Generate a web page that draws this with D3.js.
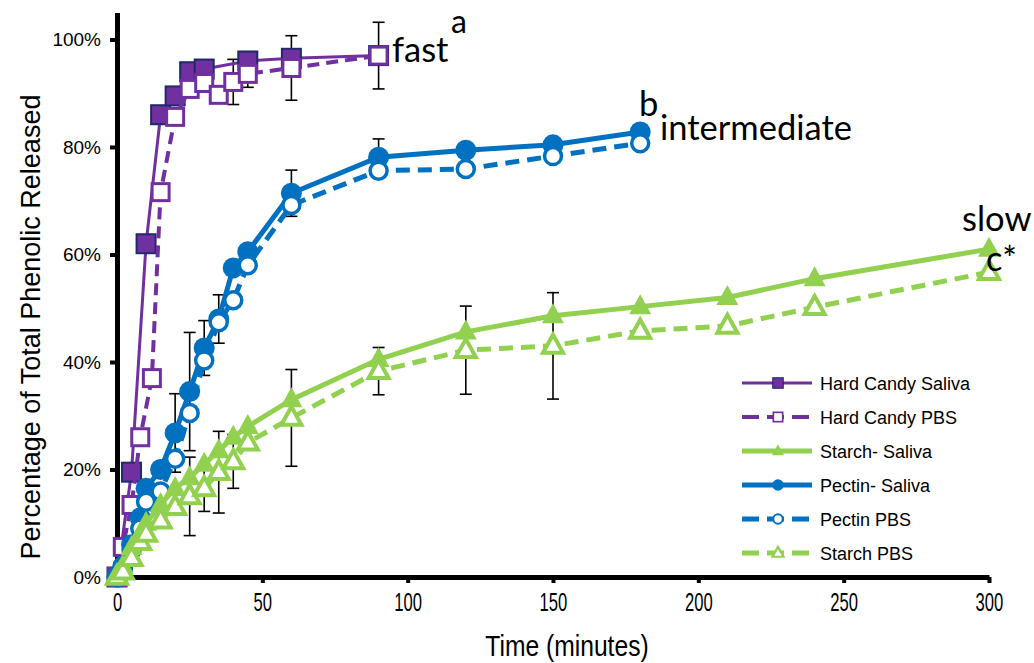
<!DOCTYPE html>
<meta charset="utf-8">
<style>
body { margin: 0; background: #fff; }
svg { display: block; }
.tick text { fill: #000; }
</style>
<body>
<svg width="1034" height="663"></svg>
<script src="https://cdn.jsdelivr.net/npm/d3@7"></script>
<script>
// time points (minutes)
var tHCSaliva = [0, 5, 10, 15, 20, 25, 30, 45, 60, 90];
var tHCPBS    = [0, 2, 5, 8, 12, 15, 20, 25, 30, 35, 40, 45, 60, 90];
var tPectin   = [0, 2, 5, 8, 10, 15, 20, 25, 30, 35, 40, 45, 60, 90, 120, 150, 180];
var tStarch   = [0, 2, 5, 8, 10, 15, 20, 25, 30, 35, 40, 45, 60, 90, 120, 150, 180, 210, 240, 300];

// % of total phenolic released
var hcSaliva     = [0, 19.5, 62, 86, 89.5, 94, 94.5, 96, 96.5, 97];
var hcPBS        = [0, 5.6, 13.4, 26, 37, 71.6, 85.6, 90.8, 91.9, 89.7, 92.1, 93.6, 94.7, 97];
var pectinSaliva = [0, 2, 6, 11, 16.5, 20, 26.8, 34.5, 42.6, 48, 57.5, 60.5, 71.4, 78.1, 79.4, 80.4, 82.8];
var pectinPBS    = [0, 1.5, 5, 9, 14, 15.9, 22, 30.5, 40.3, 47.4, 51.5, 58, 69.2, 75.6, 75.9, 78.3, 80.7];
var starchSaliva = [0, 2, 5.5, 8, 10, 13.5, 16.5, 18.5, 21, 23.5, 26, 28, 33, 40.5, 45.6, 48.6, 50.3, 52, 55.5, 61];
var starchPBS    = [0, 1, 3.5, 6.5, 8, 10.5, 13, 15, 16.5, 19.5, 21.5, 25, 29.6, 38.3, 42.2, 43, 45.8, 46.7, 50.2, 56.7];

// error bar half-widths (0 = none shown)
var errHCPBS        = [0, 0, 0, 0, 0, 0, 0, 0, 0, 0, 4.2, 2.5, 6, 6.2];
var errPectinSaliva = [0, 0, 0, 0, 0, 0, 7.3, 11, 5.1, 4.5, 0, 0, 4.3, 3.4, 0, 0, 0];
var errStarchPBS    = [0, 0, 0, 0, 0, 0, 0, 7.3, 4.3, 7.6, 5, 0, 9, 4.4, 8.2, 9.9, 0, 0, 0, 0];

var yTicks = [0, 20, 40, 60, 80, 100];
var xTicks = [0, 50, 100, 150, 200, 250, 300];

var purple = "#7030a0", navy = "#1f2a6b", blue = "#0070c0", green = "#92d050";

var series = [
  {name: "Hard Candy Saliva", t: tHCSaliva, v: hcSaliva, color: purple, dash: null, lw: 3, shape: "square", filled: true},
  {name: "Hard Candy PBS", t: tHCPBS, v: hcPBS, err: errHCPBS, color: purple, dash: "12,7", lw: 4, shape: "square", filled: false},
  {name: "Pectin- Saliva", t: tPectin, v: pectinSaliva, err: errPectinSaliva, color: blue, dash: null, lw: 5, shape: "circle", filled: true},
  {name: "Pectin PBS", t: tPectin, v: pectinPBS, color: blue, dash: "14,8", lw: 5, shape: "circle", filled: false},
  {name: "Starch- Saliva", t: tStarch, v: starchSaliva, color: green, dash: null, lw: 5, shape: "triangle", filled: true},
  {name: "Starch PBS", t: tStarch, v: starchPBS, err: errStarchPBS, color: green, dash: "14,8", lw: 5, shape: "triangle", filled: false}
];
var legendOrder = ["Hard Candy Saliva", "Hard Candy PBS", "Starch- Saliva", "Pectin- Saliva", "Pectin PBS", "Starch PBS"];

var svg = d3.select("svg");
var x = d3.scaleLinear().domain([0, 300]).range([117, 989]);
var y = d3.scaleLinear().domain([0, 105]).range([577, 12.6]);

var arial = "'Liberation Sans', Arial, sans-serif";

// axes
var yAxis = svg.append("g")
    .attr("transform", "translate(" + x(0) + ",0)")
    .call(d3.axisLeft(y).tickValues(yTicks).tickSize(7).tickSizeOuter(0).tickPadding(9)
      .tickFormat(function(d) { return d + "%"; }));
yAxis.select(".domain").attr("stroke-width", 5);
yAxis.selectAll(".tick line").attr("stroke-width", 4);
yAxis.selectAll(".tick text").style("font", "19px " + arial);

var xAxis = svg.append("g")
    .attr("transform", "translate(0," + y(0) + ")")
    .call(d3.axisBottom(x).tickValues(xTicks).tickSize(6).tickSizeOuter(0).tickPadding(10));
xAxis.select(".domain").attr("stroke-width", 5);
xAxis.selectAll(".tick line").attr("stroke-width", 4);
xAxis.selectAll(".tick text")
    .style("font", "26px " + arial)
    .attr("transform", "scale(0.64,1)");

svg.append("text")
    .attr("transform", "translate(40,327) rotate(-90)")
    .attr("text-anchor", "middle")
    .style("font", "27px " + arial)
    .text("Percentage of Total Phenolic Released");

svg.append("text")
    .attr("transform", "translate(567,656) scale(0.85,1)")
    .attr("text-anchor", "middle")
    .style("font", "29px " + arial)
    .text("Time (minutes)");

// error bars
var eb = svg.append("g").attr("stroke", "#000").attr("stroke-width", 1.6);
series.forEach(function(s) {
  if (!s.err) return;
  s.t.forEach(function(t, i) {
    var e = s.err[i];
    if (!e) return;
    var cx = x(t), y1 = y(s.v[i] + e), y2 = y(s.v[i] - e);
    eb.append("line").attr("x1", cx).attr("x2", cx).attr("y1", y1).attr("y2", y2);
    eb.append("line").attr("x1", cx - 6).attr("x2", cx + 6).attr("y1", y1).attr("y2", y1);
    eb.append("line").attr("x1", cx - 6).attr("x2", cx + 6).attr("y1", y2).attr("y2", y2);
  });
});

function marker(g, shape, filled, color, scale) {
  scale = scale || 1;
  var m;
  if (shape === "square") {
    var a = (filled ? 19 : 17) * scale;
    m = g.append("rect").attr("x", -a / 2).attr("y", -a / 2).attr("width", a).attr("height", a);
    if (filled) m.attr("fill", color).attr("stroke", navy).attr("stroke-width", 2 * scale);
    else m.attr("fill", "#fff").attr("stroke", color).attr("stroke-width", 3 * scale);
  } else if (shape === "circle") {
    m = g.append("circle").attr("r", (filled ? 10.5 : 8.5) * scale);
    if (filled) m.attr("fill", color);
    else m.attr("fill", "#fff").attr("stroke", color).attr("stroke-width", 3.5 * scale);
  } else {
    var h = (filled ? 20 : 18) * scale, w = (filled ? 22 : 20) * scale;
    m = g.append("path").attr("d", "M0," + (-h * 0.62) + "L" + (w / 2) + "," + (h * 0.38) + "L" + (-w / 2) + "," + (h * 0.38) + "Z");
    if (filled) m.attr("fill", color);
    else m.attr("fill", "#fff").attr("stroke", color).attr("stroke-width", 4 * scale).attr("stroke-linejoin", "miter");
  }
}

var line = d3.line().x(function(d) { return x(d[0]); }).y(function(d) { return y(d[1]); });

series.forEach(function(s) {
  var pts = s.t.map(function(t, i) { return [t, s.v[i]]; });
  var g = svg.append("g");
  g.append("path")
      .attr("d", line(pts))
      .attr("fill", "none")
      .attr("stroke", s.color)
      .attr("stroke-width", s.lw)
      .attr("stroke-dasharray", s.dash);
  g.selectAll(".pt").data(pts).enter().append("g")
      .attr("transform", function(d) { return "translate(" + x(d[0]) + "," + y(d[1]) + ")"; })
      .each(function() { marker(d3.select(this), s.shape, s.filled, s.color); });
});

// annotations
var ann = [
  {text: "a", px: 451, py: 33, size: 32},
  {text: "fast", px: 392, py: 62, size: 34.5},
  {text: "b", px: 639, py: 116, size: 34.5},
  {text: "intermediate", px: 660, py: 140, size: 34.5},
  {text: "slow", px: 962, py: 231, size: 34.5},
  {text: "c*", px: 986, py: 271, size: 34.5}
];
svg.selectAll(".ann").data(ann).enter().append("text")
    .attr("x", function(d) { return d.px; })
    .attr("y", function(d) { return d.py; })
    .style("font-family", "Lato, 'Open Sans', sans-serif")
    .style("font-size", function(d) { return d.size + "px"; })
    .text(function(d) { return d.text; });

// legend
var lg = svg.append("g").attr("transform", "translate(742,383)");
legendOrder.forEach(function(name, i) {
  var s = series.filter(function(d) { return d.name === name; })[0];
  var row = lg.append("g").attr("transform", "translate(0," + i * 34 + ")");
  row.append("line").attr("x1", 0).attr("x2", 70)
      .attr("stroke", s.color)
      .attr("stroke-width", s.name === "Hard Candy Saliva" ? 3 : (s.color === purple ? 4 : 5))
      .attr("stroke-dasharray", s.dash ? "17,8" : null);
  var mg = row.append("g").attr("transform", "translate(36,0)");
  marker(mg, s.shape, s.filled, s.color, 0.55);
  row.append("text").attr("x", 78).attr("y", 6.5)
      .style("font", "18px " + arial)
      .text(name);
});
</script>
</body>
